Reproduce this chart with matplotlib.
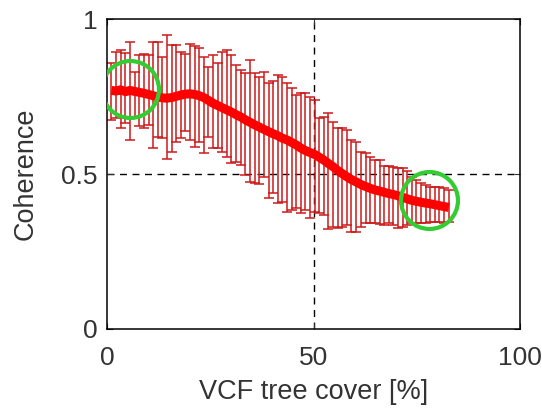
import numpy as np
import matplotlib
matplotlib.use("Agg")
import matplotlib.pyplot as plt

# VCF tree cover bins [%]
tree_cover = [1.0, 2.1, 3.2, 4.4, 5.5, 6.6, 7.7, 8.8, 10.0, 11.1,
              12.2, 13.3, 14.4, 15.6, 16.7, 17.8, 18.9, 20.0, 21.2, 22.3,
              23.4, 24.5, 25.6, 26.8, 27.9, 29.0, 30.1, 31.2, 32.4, 33.5,
              34.6, 35.7, 36.8, 38.0, 39.1, 40.2, 41.3, 42.4, 43.6, 44.7,
              45.8, 46.9, 48.0, 49.2, 50.3, 51.4, 52.5, 53.6, 54.8, 55.9,
              57.0, 58.1, 59.2, 60.4, 61.5, 62.6, 63.7, 64.8, 66.0, 67.1,
              68.2, 69.3, 70.4, 71.6, 72.7, 73.8, 74.9, 76.0, 77.2, 78.3,
              79.4, 80.5, 81.6, 82.8]

# mean coherence per bin
coherence = [0.770, 0.768, 0.772, 0.766, 0.770, 0.767, 0.764, 0.761, 0.757, 0.753,
             0.749, 0.746, 0.745, 0.747, 0.751, 0.755, 0.758, 0.759, 0.757, 0.753,
             0.747, 0.738, 0.729, 0.721, 0.714, 0.707, 0.700, 0.692, 0.684, 0.675,
             0.667, 0.659, 0.652, 0.644, 0.637, 0.630, 0.624, 0.616, 0.610, 0.602,
             0.594, 0.584, 0.576, 0.569, 0.563, 0.554, 0.545, 0.534, 0.523, 0.511,
             0.501, 0.491, 0.482, 0.474, 0.466, 0.460, 0.454, 0.449, 0.445, 0.441,
             0.437, 0.434, 0.430, 0.425, 0.420, 0.415, 0.412, 0.409, 0.406, 0.404,
             0.401, 0.398, 0.395, 0.392]

# spread below / above the mean
err_low = [0.095, 0.087, 0.123, 0.100, 0.160, 0.087, 0.110, 0.112, 0.100, 0.170,
           0.130, 0.130, 0.195, 0.176, 0.147, 0.140, 0.120, 0.150, 0.170, 0.150,
           0.180, 0.120, 0.145, 0.137, 0.143, 0.151, 0.165, 0.152, 0.155, 0.178,
           0.192, 0.189, 0.185, 0.154, 0.216, 0.192, 0.219, 0.206, 0.232, 0.218,
           0.205, 0.211, 0.192, 0.212, 0.185, 0.180, 0.178, 0.210, 0.193, 0.186,
           0.171, 0.156, 0.168, 0.160, 0.136, 0.119, 0.113, 0.108, 0.107, 0.106,
           0.096, 0.099, 0.105, 0.095, 0.085, 0.074, 0.071, 0.068, 0.063, 0.058,
           0.055, 0.053, 0.052, 0.047]
err_high = [0.088, 0.127, 0.128, 0.124, 0.158, 0.063, 0.120, 0.126, 0.128, 0.175,
            0.179, 0.133, 0.203, 0.170, 0.166, 0.139, 0.129, 0.160, 0.158, 0.155,
            0.130, 0.109, 0.156, 0.137, 0.181, 0.193, 0.185, 0.160, 0.152, 0.150,
            0.200, 0.166, 0.162, 0.186, 0.156, 0.170, 0.196, 0.198, 0.183, 0.175,
            0.161, 0.177, 0.185, 0.181, 0.176, 0.126, 0.140, 0.162, 0.146, 0.137,
            0.147, 0.151, 0.128, 0.130, 0.106, 0.107, 0.102, 0.096, 0.100, 0.085,
            0.090, 0.090, 0.088, 0.095, 0.090, 0.075, 0.068, 0.063, 0.059, 0.055,
            0.058, 0.059, 0.060, 0.058]

# highlighted points (green circles)
circle_x = [5.5, 78.0]
circle_y = [0.775, 0.415]

x_ticks = [0, 50, 100]
y_ticks = [0, 0.5, 1]

plt.rcParams['font.family'] = ['Liberation Sans', 'DejaVu Sans']

fig = plt.figure(figsize=(5.42, 4.09), dpi=100)
ax = fig.add_axes([0.198, 0.196, 0.761, 0.757])

ax.errorbar(tree_cover, coherence, yerr=[err_low, err_high], fmt='none',
            ecolor='#cc1a1a', elinewidth=1.1, capsize=3.6, capthick=1.1, zorder=2)
ax.plot(tree_cover, coherence, color='#ff0000', lw=6.5, solid_capstyle='butt', zorder=3)
ax.plot(circle_x, circle_y, 'o', ms=41, mfc='none', mec='#33cc33', mew=3, zorder=4)

ax.set_xlim(0, 100)
ax.set_ylim(0, 1)
ax.set_xticks(x_ticks)
ax.set_yticks(y_ticks)
ax.set_xticklabels(['0', '50', '100'])
ax.set_yticklabels(['0', '0.5', '1'])
ax.grid(True, color='black', linestyle=(0, (5, 4)), lw=1.0)
# only the middle grid lines, like the original
for axis in (ax.xaxis, ax.yaxis):
    gls = axis.get_gridlines()
    gls[0].set_visible(False)
    gls[-1].set_visible(False)
ax.set_axisbelow(True)
ax.tick_params(direction='in', length=4, width=0.8, top=True, right=True,
               labelsize=19, colors='#333333')
ax.tick_params(axis='x', pad=12)
ax.tick_params(axis='y', pad=7)
for s in ax.spines.values():
    s.set_linewidth(1.1)

ax.set_xlabel('VCF tree cover [%]', fontsize=19.5, labelpad=7, color='#333333')
ax.set_ylabel('Coherence', fontsize=19.5, labelpad=16, color='#333333')

fig.savefig('out.png', dpi=100)
